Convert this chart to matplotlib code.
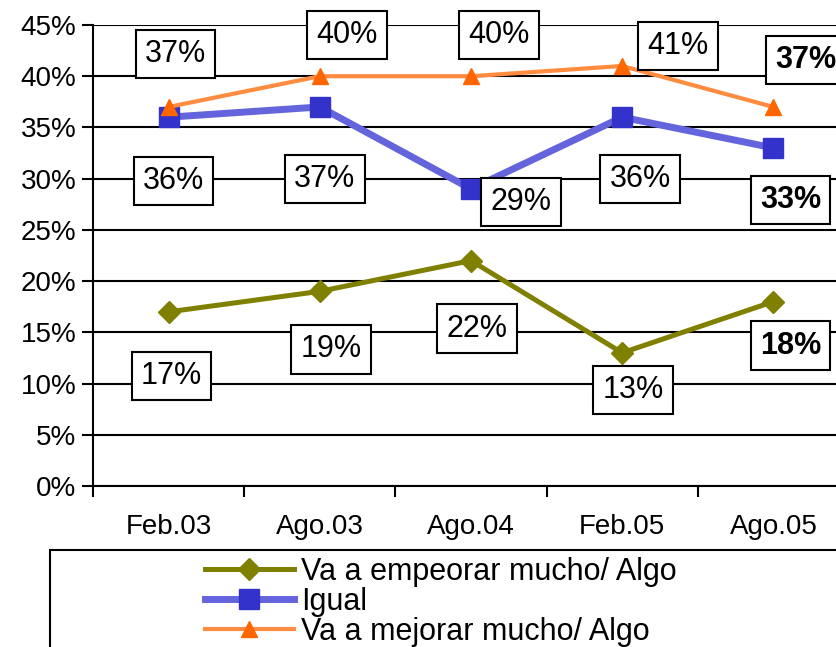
import matplotlib

matplotlib.use("Agg")

import matplotlib.pyplot as plt
import numpy as np
from matplotlib.patches import Rectangle

plt.rcParams["font.family"] = ["Liberation Sans", "DejaVu Sans"]

periods = ["Feb.03", "Ago.03", "Ago.04", "Feb.05", "Ago.05"]
empeorar = [17, 19, 22, 13, 18]
igual = [36, 37, 29, 36, 33]
mejorar = [37, 40, 40, 41, 37]
series_names = ["Va a empeorar mucho/ Algo", "Igual", "Va a mejorar mucho/ Algo"]
yticks = [0, 5, 10, 15, 20, 25, 30, 35, 40, 45]

# label box offsets from each point, in pixels (dx, dy)
off_emp = [(3, -64), (11, -58), (6, -68), (11, -37), (17, -44)]
off_igu = [(5, -64), (5, -72), (50, -13), (18, -62), (17, -52)]
off_mej = [(7, 53), (27, 41), (28, 41), (56, 20), (32, 47)]

W, H = 836, 647
fig = plt.figure(figsize=(W / 100, H / 100), dpi=100)
ax = fig.add_axes([93 / W, (H - 486) / H, 756 / W, 461 / H])

x = np.arange(len(periods))
ax.plot(x, empeorar, color="#808000", lw=3.6, marker="D", ms=11,
        mfc="#808000", mec="#808000", label=series_names[0], zorder=3)
ax.plot(x, igual, color="#6464DC", lw=5, marker="s", ms=14,
        mfc="#3333CC", mec="#3333CC", label=series_names[1], zorder=3)
ax.plot(x, mejorar, color="#FF8C40", lw=3, marker="^", ms=11,
        mfc="#FF6600", mec="#FF6600", label=series_names[2], zorder=3)

box = dict(boxstyle="square,pad=0.3", fc="white", ec="black", lw=1.5)
for vals, offs in [(empeorar, off_emp), (igual, off_igu), (mejorar, off_mej)]:
    for i, (v, (dx, dy)) in enumerate(zip(vals, offs)):
        last = i == len(vals) - 1
        ax.annotate(f"{v}%", (x[i], v), xytext=(dx, dy), textcoords="offset pixels",
                    ha="center", va="center", fontsize=22,
                    fontweight="bold" if last else "normal", bbox=box,
                    zorder=4, annotation_clip=False)

ax.set_xlim(-0.5, len(periods) - 0.5)
ax.set_ylim(0, 45)
ax.set_yticks(yticks)
ax.set_yticklabels([f"{t}%" for t in yticks], fontsize=20)
ax.yaxis.grid(True, color="black", lw=1.5)
ax.set_axisbelow(True)

ax.set_xticks(np.arange(len(periods) + 1) - 0.5)
ax.set_xticklabels([])
ax.set_xticks(x, minor=True)
ax.set_xticklabels(periods, minor=True, fontsize=20)
ax.tick_params(axis="x", which="major", length=8, width=1.5, direction="out")
ax.tick_params(axis="x", which="minor", length=0, pad=20)
ax.tick_params(axis="y", length=8, width=1.5, pad=4)

for side in ["top", "right"]:
    ax.spines[side].set_visible(False)
for side in ["left", "bottom"]:
    ax.spines[side].set_linewidth(1.5)

fig.patches.append(Rectangle((50 / W, -0.2), 0.95, 1 - 550 / H + 0.2,
                             transform=fig.transFigure, fc="white",
                             ec="black", lw=1.5))
fig.legend(loc="upper left", bbox_to_anchor=(205 / W, 1 - 557 / H), frameon=False,
           fontsize=22, handlelength=2.9, handletextpad=0.25, labelspacing=0.0,
           borderpad=0, borderaxespad=0)

fig.savefig("out.png", dpi=100)
